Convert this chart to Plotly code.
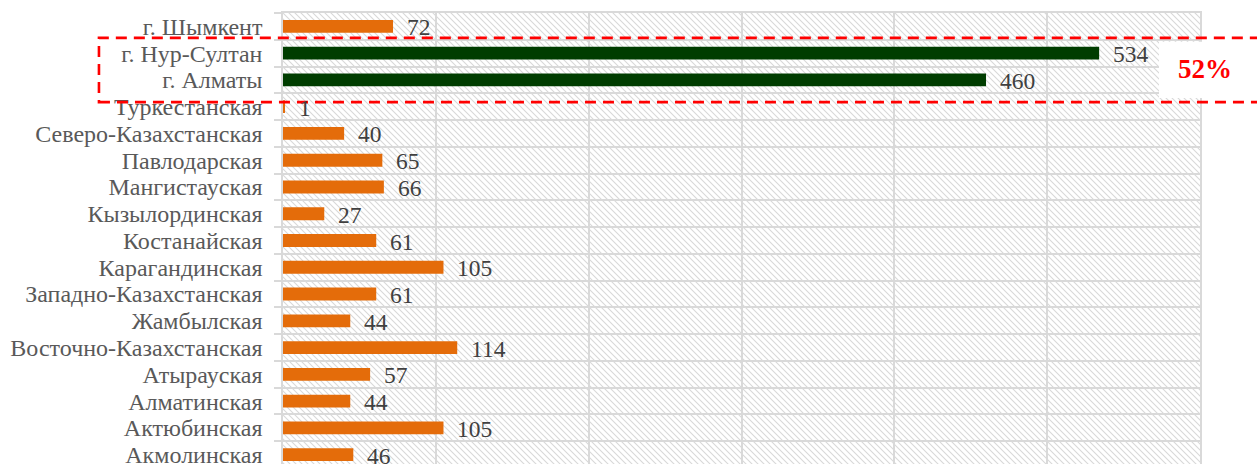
import plotly.graph_objects as go
import base64

# ---- data (bottom to top) ----
regions = [
    "Акмолинская", "Актюбинская", "Алматинская", "Атырауская",
    "Восточно-Казахстанская", "Жамбылская", "Западно-Казахстанская",
    "Карагандинская", "Костанайская", "Кызылординская", "Мангистауская",
    "Павлодарская", "Северо-Казахстанская", "Туркестанская",
    "г. Алматы", "г. Нур-Султан", "г. Шымкент",
]
counts = [46, 105, 44, 57, 114, 44, 61, 105, 61, 27, 66, 65, 40, 1, 460, 534, 72]
highlighted = ["г. Алматы", "г. Нур-Султан"]
share_label = "52%"

ORANGE = "#E46C0A"
GREEN = "#003D00"
GRID = "#D9D9D9"
SERIF = "Liberation Serif, Times New Roman, serif"

colors = [GREEN if r in highlighted else ORANGE for r in regions]

fig = go.Figure()
fig.add_trace(go.Bar(
    y=regions, x=counts, orientation="h",
    marker=dict(color=colors, line=dict(width=0)),
    width=0.48, hoverinfo="x+y", showlegend=False,
))

# value labels
for r, v in zip(regions, counts):
    fig.add_annotation(
        x=v, y=r, xref="x", yref="y", text=str(v), showarrow=False,
        xanchor="left", yanchor="middle", xshift=12, yshift=-1,
        font=dict(family=SERIF, size=23.5, color="#404040"),
    )

# hatched plot-area background (decoration)
W, H = 917, 451
svg = (
    f'<svg xmlns="http://www.w3.org/2000/svg" width="{W}" height="{H}">'
    '<defs><pattern id="p" width="6" height="6" patternUnits="userSpaceOnUse">'
    '<path d="M-1,-1 L7,7 M-1,5 L1,7 M5,-1 L7,1" stroke="#D8D8D8" stroke-width="1.1"/>'
    '</pattern></defs>'
    f'<rect x="0" y="0" width="{W}" height="{H}" fill="url(#p)"/></svg>'
)
src = "data:image/svg+xml;base64," + base64.b64encode(svg.encode()).decode()
fig.add_layout_image(dict(
    source=src, xref="paper", yref="paper", x=0, y=1, sizex=1, sizey=1,
    xanchor="left", yanchor="top", sizing="stretch", layer="below",
))

# dashed highlight rectangle
fig.add_shape(type="rect", xref="paper", yref="y",
              x0=-0.2007, x1=1.075, y0=13.17, y1=15.57,
              line=dict(color="#FF0000", width=2.6, dash="11px,7px"),
              fillcolor="rgba(0,0,0,0)", layer="above")
# white box behind share label
fig.add_shape(type="rect", xref="paper", yref="y",
              x0=0.9553, x1=1.075, y0=13.32, y1=15.43,
              line=dict(width=0), fillcolor="white", layer="above")
fig.add_annotation(
    x=1.0055, y=14.4, xref="paper", yref="y", text=f"<b>{share_label}</b>",
    showarrow=False, xanchor="center", yanchor="middle",
    font=dict(family=SERIF, size=27, color="#FF0000"),
)

fig.update_layout(
    width=1257, height=464,
    margin=dict(l=283, r=57, t=13, b=0),
    paper_bgcolor="white", plot_bgcolor="rgba(0,0,0,0)",
    showlegend=False, bargap=0.5,
)
fig.update_xaxes(
    range=[0, 600], dtick=100, showticklabels=False,
    showgrid=True, gridcolor=GRID, gridwidth=1.5, zeroline=False,
    showline=True, linecolor=GRID, linewidth=1.5, mirror=True,
)
fig.update_yaxes(
    type="category", categoryorder="array", categoryarray=regions,
    range=[-0.35, 16.5], tickson="boundaries",
    tickmode="linear", tick0=0, dtick=1,
    showgrid=True, gridcolor=GRID, gridwidth=1.5,
    ticks="outside", ticklen=7, tickcolor=GRID, tickwidth=1.5,
    showline=True, linecolor=GRID, linewidth=1.5, mirror=True,
    ticklabelstandoff=14, automargin=False,
    tickfont=dict(family=SERIF, size=24, color="#595959"),
)

fig.write_html("out.html", config={"displayModeBar": False},
               post_script="document.body.style.margin='0';")
